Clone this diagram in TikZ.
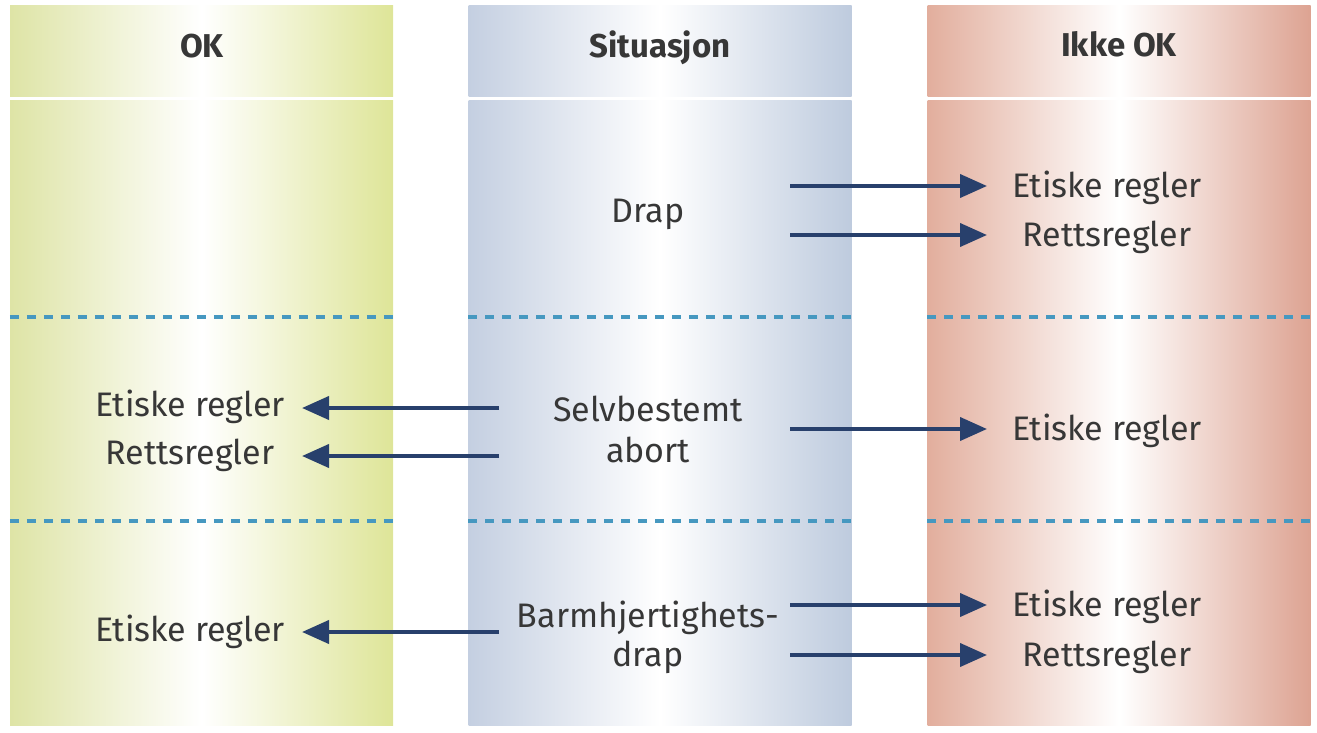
\documentclass[tikz,border=0pt]{standalone}
\usepackage{fontspec}
\setmainfont{Fira Sans}
\usetikzlibrary{arrows.meta,calc}
\definecolor{okL}{RGB}{222,228,166}
\definecolor{okR}{RGB}{222,229,152}
\definecolor{siL}{RGB}{196,207,225}
\definecolor{siR}{RGB}{190,203,222}
\definecolor{ikL}{RGB}{226,174,157}
\definecolor{ikR}{RGB}{221,163,146}
\definecolor{arrowc}{RGB}{40,64,108}
\definecolor{dashc}{RGB}{70,152,192}
\definecolor{txt}{RGB}{55,55,55}
\tikzset{
  colbox/.style={draw=none, inner sep=0pt, minimum width=383pt},
  headbox/.style={colbox, minimum height=91pt},
  bodybox/.style={colbox, minimum height=624pt},
  okshade/.style={left color=okL, right color=okR, middle color=white},
  sishade/.style={left color=siL, right color=siR, middle color=white},
  ikshade/.style={left color=ikL, right color=ikR, middle color=white},
  headtxt/.style={anchor=base, inner sep=0pt, text=txt, font=\fontsize{33}{40}\selectfont\bfseries},
  lbl/.style={anchor=base, inner sep=0pt, text=txt, font=\fontsize{34}{40}\selectfont, align=center},
  arr/.style={draw=arrowc, line width=4pt, -{Triangle[length=27pt,width=23pt]}},
  sep/.style={draw=dashc, line width=3.8pt, dash pattern=on 9pt off 8pt}
}
\begin{document}
\begin{tikzpicture}[x=1pt,y=-1pt]
\useasboundingbox (0,0) rectangle (1317,733);
% columns
\node[headbox, okshade] (okH) at (201.5,51.5) {};
\node[bodybox, okshade] (okB) at (201.5,413) {};
\node[headbox, sishade] (siH) at (660,51.5) {};
\node[bodybox, sishade] (siB) at (660,413) {};
\node[headbox, ikshade] (ikH) at (1119,51.5) {};
\node[bodybox, ikshade] (ikB) at (1119,413) {};
% headers
\node[headtxt] (hOK) at (202,58) {OK};
\node[headtxt] (hSi) at (660,58) {Situasjon};
\node[headtxt] (hIk) at (1119,57) {Ikke OK};
% dashed separators
\foreach \c in {okB,siB,ikB}{
  \draw[sep] (\c.west |- 0,317) -- (\c.east |- 0,317);
  \draw[sep] (\c.west |- 0,521) -- (\c.east |- 0,521);
}
% situation texts
\node[lbl] (drap) at (648,222) {Drap};
\node[lbl] (abort) at (648,462) {Selvbestemt\\[1pt]abort};
\node[lbl] (barm) at (648,666) {Barmhjertighets-\\[-1pt]drap};
% right texts
\node[lbl] (r1) at (1107,197) {Etiske regler};
\node[lbl] (r2) at (1107,246) {Rettsregler};
\node[lbl] (r3) at (1107,440) {Etiske regler};
\node[lbl] (r4) at (1107,616) {Etiske regler};
\node[lbl] (r5) at (1107,666) {Rettsregler};
% left texts
\node[lbl] (l1) at (190,416) {Etiske regler};
\node[lbl] (l2) at (190,464) {Rettsregler};
\node[lbl] (l3) at (190,641) {Etiske regler};
% arrow coordinates
\coordinate (s1) at (790,186); \coordinate (t1) at (987,186);
\coordinate (s2) at (790,235); \coordinate (t2) at (987,235);
\coordinate (s3) at (790,429); \coordinate (t3) at (987,429);
\coordinate (s4) at (790,605); \coordinate (t4) at (987,605);
\coordinate (s5) at (790,655); \coordinate (t5) at (987,655);
\coordinate (u1) at (499,408); \coordinate (v1) at (302,408);
\coordinate (u2) at (499,456); \coordinate (v2) at (302,456);
\coordinate (u3) at (499,632); \coordinate (v3) at (302,632);
\draw[arr] (s1) -- (t1);
\draw[arr] (s2) -- (t2);
\draw[arr] (s3) -- (t3);
\draw[arr] (s4) -- (t4);
\draw[arr] (s5) -- (t5);
\draw[arr] (u1) -- (v1);
\draw[arr] (u2) -- (v2);
\draw[arr] (u3) -- (v3);
\end{tikzpicture}
\end{document}
